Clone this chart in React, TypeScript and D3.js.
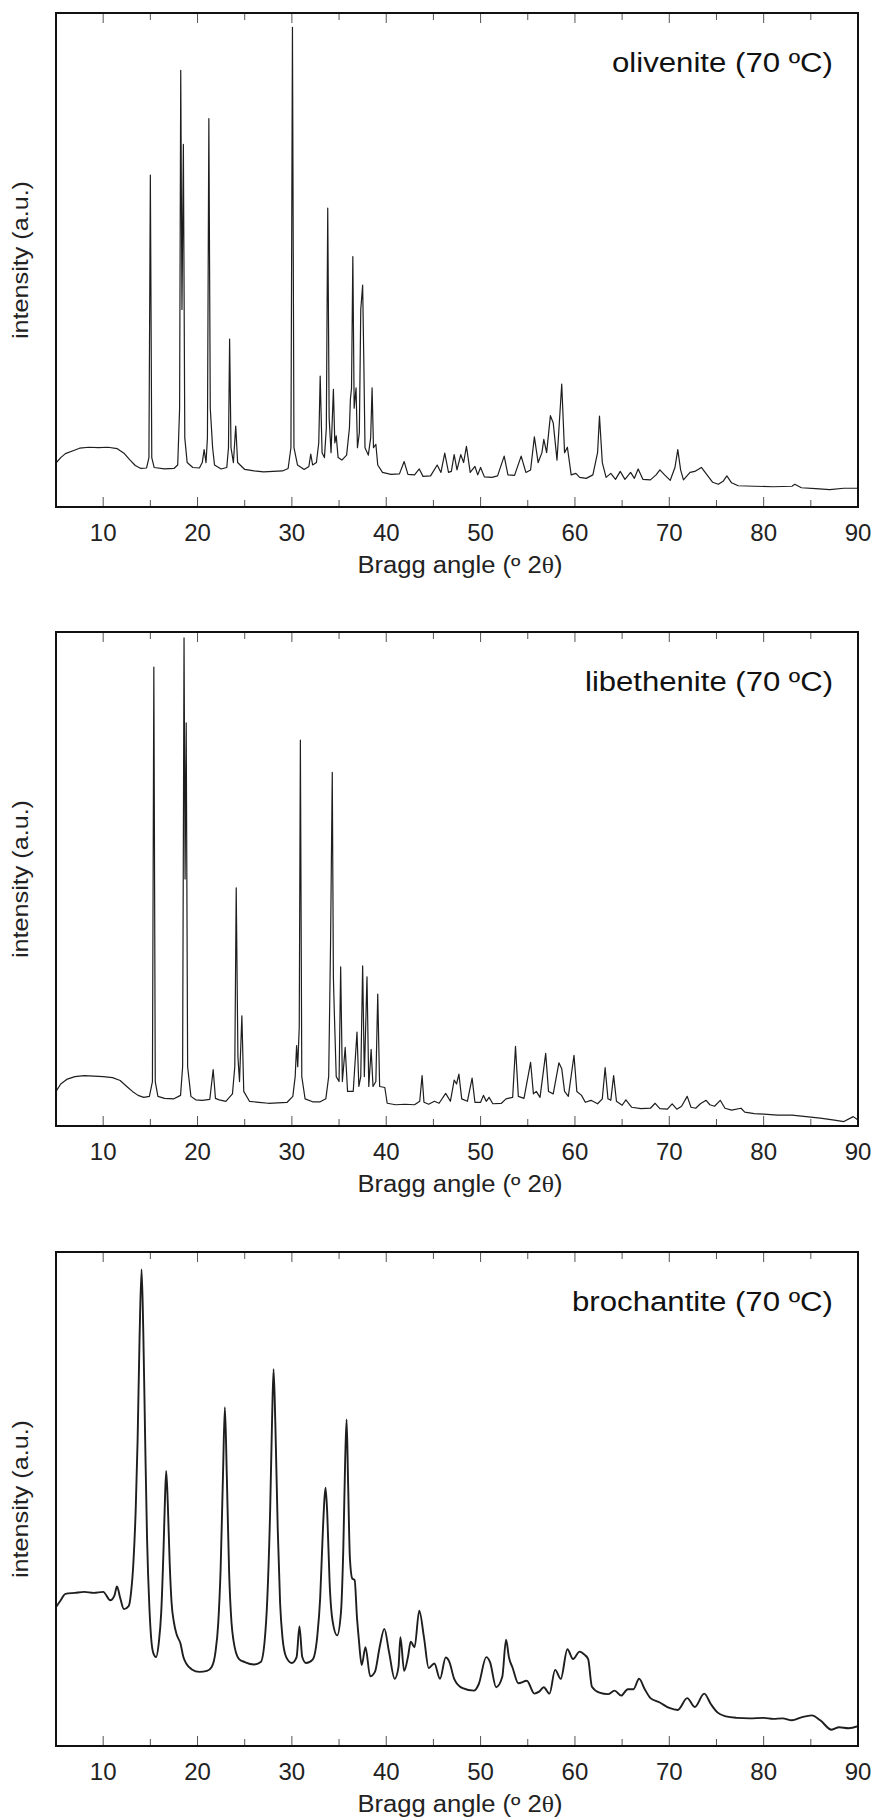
import React from 'react';
import * as d3 from 'd3';

// x-ray powder patterns, values as [2θ, intensity %]
const olivenite: [number, number][] = [
  [5, 8.9], [5.5, 10], [6, 10.8], [6.8, 11.4], [7.5, 11.9], [8.5, 12.1], [9.5, 12.0], [10.5, 12.1], [11.5, 11.8],
  [12.2, 10.9], [12.8, 9.6], [13.4, 8.4], [14.0, 7.8], [14.6, 7.9],
  [14.85, 10], [15.0, 67.2], [15.15, 10],
  [15.4, 8.0], [16.5, 7.7], [17.5, 7.8], [17.9, 8.5],
  [18.1, 20], [18.22, 88.4], [18.35, 40], [18.5, 73.4], [18.65, 14], [18.9, 9], [19.5, 8], [20.2, 7.9],
  [20.5, 9], [20.7, 11.6], [20.9, 9],
  [21.05, 14], [21.2, 78.6], [21.35, 20], [21.6, 12], [21.8, 8.5], [22.5, 7.7], [23.1, 8],
  [23.28, 12], [23.4, 34.0], [23.55, 12], [23.8, 9], [24.05, 16.4], [24.25, 9], [25, 7.6], [26, 7.3],
  [27, 7.1], [28, 7.2], [29, 7.3], [29.6, 7.8],
  [29.9, 12], [30.06, 97.1], [30.22, 12], [30.6, 8.5], [31.3, 7.6], [31.8, 8.2], [32.0, 10.7], [32.2, 8.5], [32.6, 9],
  [32.85, 13], [33.0, 26.5], [33.2, 11], [33.45, 10], [33.65, 16], [33.8, 60.5], [33.95, 18], [34.15, 11],
  [34.4, 23.8], [34.55, 13], [34.7, 14.4], [34.9, 10], [35.3, 9.5], [35.8, 10.5],
  [36.1, 16], [36.2, 21.8], [36.32, 24], [36.46, 50.7], [36.6, 20], [36.8, 24.1], [36.95, 12], [37.15, 15],
  [37.3, 40], [37.5, 44.9], [37.62, 30], [37.75, 12], [38.1, 10.5],
  [38.35, 14], [38.5, 24.1], [38.65, 12], [38.9, 12.7], [39.1, 8.5], [39.6, 7], [40.5, 6.6], [41.4, 6.7],
  [41.9, 9.2], [42.3, 6.6], [43.0, 6.5], [43.5, 7.7], [43.9, 6.2], [44.7, 6.3], [45.4, 8.5], [45.8, 7],
  [46.2, 10.9], [46.6, 7], [46.9, 7.2], [47.2, 10.6], [47.5, 7.5], [47.9, 10.6], [48.2, 9], [48.5, 12.3],
  [48.9, 7], [49.4, 8.2], [49.7, 6.5], [50.0, 8.0], [50.4, 6.1], [51.2, 6.0], [51.8, 6.3], [52.5, 10.3],
  [52.9, 6.5], [53.6, 6.4], [54.3, 10.3], [54.8, 7], [55.3, 7.5], [55.7, 14.2], [56.1, 9], [56.5, 11],
  [56.7, 13.7], [57.0, 11], [57.4, 18.5], [57.7, 17], [58.1, 9.5], [58.6, 24.9], [58.9, 11], [59.2, 12.1],
  [59.6, 6.5], [60.1, 6.8], [60.5, 6.0], [61.2, 5.8], [61.9, 6.5], [62.4, 11], [62.6, 18.4], [62.9, 9],
  [63.3, 6.0], [63.8, 6.8], [64.3, 5.6], [64.8, 7.2], [65.3, 5.6], [65.9, 7.0], [66.3, 5.8], [66.7, 7.7],
  [67.2, 5.6], [68.0, 5.5], [68.6, 6.5], [69.0, 7.5], [69.5, 6.5], [70.1, 5.4], [70.6, 8], [70.9, 11.6],
  [71.2, 7.5], [71.5, 5.5], [72.2, 7.0], [72.7, 7.2], [73.4, 8.0], [74.0, 6.5], [74.6, 5.0], [75.2, 4.6],
  [75.7, 5.2], [76.1, 6.3], [76.6, 4.9], [77.3, 4.3], [79, 4.2], [81, 4.1], [83, 4.2], [83.3, 4.6],
  [84, 3.9], [85.5, 3.7], [87, 3.5], [88.5, 3.8], [90, 3.8],
];

const libethenite: [number, number][] = [
  [5, 7.0], [5.5, 8.5], [6.2, 9.5], [7, 10.0], [8, 10.2], [9, 10.1], [10, 10.0], [11, 9.8], [11.8, 9.2],
  [12.5, 8.0], [13.1, 7.0], [13.7, 6.2], [14.3, 5.8], [14.9, 6.0],
  [15.22, 9], [15.37, 92.9], [15.52, 9], [15.8, 6], [16.5, 5.6], [17.5, 5.5], [18.2, 6.2],
  [18.42, 12], [18.57, 98.8], [18.68, 50], [18.8, 81.6], [18.95, 12], [19.3, 6], [19.8, 5.3], [20.5, 5.2],
  [21.3, 5.4], [21.66, 11.4], [21.9, 5.6], [22.3, 5.3], [23.0, 5.0], [23.7, 6.5],
  [23.95, 12], [24.1, 48.2], [24.28, 14], [24.45, 9], [24.7, 22.3], [24.9, 7], [25.5, 5.0], [26.5, 4.8],
  [27.5, 4.6], [28.5, 4.7], [29.5, 4.8], [30.1, 6],
  [30.35, 10], [30.5, 16.3], [30.62, 12], [30.78, 20], [30.9, 78.1], [31.05, 10], [31.4, 5.5], [32.2, 4.9],
  [33.0, 4.9], [33.6, 5.5], [33.9, 10],
  [34.1, 37.2], [34.28, 71.6], [34.4, 30], [34.5, 22.9], [34.7, 10], [35.0, 9], [35.17, 32.2], [35.35, 9],
  [35.65, 15.9], [35.9, 7], [36.5, 7],
  [36.9, 19.0], [37.1, 8], [37.3, 10], [37.5, 32.4], [37.68, 10], [37.96, 30.2], [38.15, 8], [38.4, 15.5],
  [38.6, 8], [38.9, 9], [39.1, 26.7], [39.3, 8], [39.85, 7.8], [40.1, 4.6], [41, 4.3], [42, 4.4], [43, 4.3],
  [43.55, 5], [43.8, 10.2], [44.0, 4.8], [44.5, 4.4], [45.1, 5.0], [45.6, 4.6], [46.3, 6.6], [46.8, 5.0],
  [47.2, 9.3], [47.45, 8.5], [47.7, 10.5], [48.0, 5.5], [48.6, 5.0], [49.1, 9.7], [49.4, 4.8], [50.0, 4.8],
  [50.3, 6.2], [50.6, 5.0], [50.9, 5.8], [51.3, 4.5], [52.2, 4.6], [52.7, 5.5], [53.4, 5.8], [53.7, 16.1],
  [54.0, 6], [54.6, 5.6], [55.3, 12.9], [55.6, 6.5], [55.9, 7.0], [56.3, 5.8], [56.9, 14.7], [57.2, 7],
  [57.7, 6.5], [58.3, 12.8], [58.6, 11.6], [58.9, 7], [59.3, 6], [59.9, 14.3], [60.2, 7], [60.7, 6.2],
  [61.1, 4.8], [61.7, 5.2], [62.4, 4.5], [62.9, 5.5], [63.2, 11.8], [63.5, 5.5], [63.8, 5.2], [64.1, 10.2],
  [64.4, 5], [65.0, 4.2], [65.4, 5.3], [66, 3.8], [67, 3.5], [68, 3.6], [68.5, 4.6], [69.0, 3.5],
  [69.8, 3.4], [70.3, 4.5], [70.8, 3.4], [71.3, 4.0], [71.9, 6.0], [72.3, 3.8], [72.8, 3.6], [73.3, 4.5],
  [73.9, 5.2], [74.3, 4.3], [74.8, 4.0], [75.4, 5.2], [75.9, 3.6], [76.6, 3.2], [77.6, 3.6], [78, 2.8],
  [79, 2.5], [80, 2.4], [81.5, 2.2], [83, 2.2], [84.5, 1.9], [86, 1.6], [87.5, 1.2], [88.5, 0.9],
  [89.5, 1.9], [90, 1.2],
];

const brochantite: [number, number][] = [
  [5, 28.1], [5.5, 29.5], [6, 30.8], [7, 31.0], [8, 31.2], [9, 31.0], [10, 31.2], [10.75, 29.5], [11.2, 30.5],
  [11.46, 32.3], [11.8, 30], [12.2, 27.7], [12.7, 28.3], [12.95, 31], [13.2, 37], [13.45, 48], [13.65, 62],
  [13.85, 82], [14.07, 96.5], [14.25, 84], [14.45, 62], [14.65, 42], [14.9, 28], [15.1, 21.5], [15.3, 18.9],
  [15.6, 18.0], [15.9, 21], [16.15, 27], [16.4, 40], [16.55, 50], [16.68, 55.7], [16.85, 49], [17.05, 37],
  [17.25, 29], [17.5, 25.0], [17.8, 22.5], [18.2, 20.7], [18.5, 18], [18.8, 16.7], [19.4, 15.5], [20.2, 15.0],
  [21.0, 15.2], [21.5, 16], [21.9, 19], [22.2, 25], [22.45, 36], [22.7, 55], [22.9, 68.6], [23.1, 55],
  [23.35, 35], [23.6, 25], [23.8, 21.5], [24.4, 17.6], [25, 17], [26, 16.5], [26.7, 17], [27.1, 21],
  [27.4, 30], [27.7, 48], [27.9, 66], [28.06, 76.3], [28.25, 65], [28.5, 44], [28.75, 29], [29.0, 22],
  [29.4, 18.0], [30.0, 16.8], [30.5, 18], [30.8, 24.2], [31.1, 18], [31.5, 16.8], [32.2, 17.5], [32.7, 22.4],
  [33.0, 30], [33.25, 42], [33.45, 50], [33.57, 52.3], [33.75, 47], [34.0, 33], [34.3, 25.5], [34.8, 22.4],
  [35.2, 27], [35.45, 40], [35.65, 58], [35.8, 66.1], [35.95, 54], [36.15, 38], [36.4, 33.9], [36.65, 33.6],
  [36.9, 26], [37.1, 21.5], [37.4, 16.4], [37.8, 20.0], [38.3, 14.1], [38.8, 15], [39.3, 20], [39.8, 23.7],
  [40.3, 19], [40.9, 13.6], [41.3, 16], [41.5, 22.0], [41.9, 15.2], [42.3, 18], [42.6, 21.1], [43.0, 20],
  [43.5, 27.4], [44.0, 22], [44.5, 15.8], [45.1, 16.7], [45.7, 13.6], [46.3, 17.9], [46.7, 17], [47.2, 13.6],
  [48.1, 11.7], [49.3, 11.2], [49.8, 12.5], [50.6, 18.0], [51.0, 17], [51.65, 11.9], [52.3, 14], [52.7, 21.5],
  [53.0, 18], [53.4, 15.8], [54.0, 12.7], [54.9, 13.2], [55.7, 10.6], [56.2, 11], [56.7, 11.9], [57.3, 10.6],
  [57.9, 15.4], [58.5, 13.6], [59.2, 19.6], [59.8, 17.6], [60.5, 19.1], [61.0, 18.5], [61.4, 17.6],
  [61.8, 12.0], [62.6, 10.8], [63.5, 10.5], [64.2, 11.2], [64.9, 10.2], [65.6, 11.5], [66.2, 11.5],
  [66.8, 13.6], [67.4, 11.5], [68.0, 9.7], [69.0, 8.8], [70.0, 7.7], [70.9, 7.3], [71.9, 9.7], [72.7, 7.9],
  [73.7, 10.6], [74.4, 8.5], [75.1, 6.8], [76, 6.0], [77.1, 5.7], [78.5, 5.6], [80, 5.7], [81, 5.5],
  [82, 5.6], [83, 5.2], [84, 5.8], [85.1, 6.2], [86, 5.2], [87.2, 3.3], [88, 3.8], [89, 3.6], [90, 4.0],
];

const titles = ['olivenite (70 ºC)', 'libethenite (70 ºC)', 'brochantite (70 ºC)'];
const titleWidths = [221, 248, 261];
const majorTicks = [10, 20, 30, 40, 50, 60, 70, 80, 90];
const minorTicks = [15, 25, 35, 45, 55, 65, 75, 85];

const font = '"Liberation Sans", Arial, Helvetica, sans-serif';
const left = 56;
const right = 858;
const panelH = 494;
const tops = [13, 632, 1252];

function Panel({ data, title, titleW, top, idx }: {
  data: [number, number][]; title: string; titleW: number; top: number; idx: number;
}) {
  const bottom = top + panelH;
  const x = d3.scaleLinear().domain([5, 90]).range([left, right]);
  const y = d3.scaleLinear().domain([0, 100]).range([bottom, top]);
  const line = d3.line<[number, number]>()
    .x(d => x(d[0]))
    .y(d => y(d[1]))
    .curve(idx === 2 ? d3.curveMonotoneX : d3.curveLinear);
  const clipId = 'clip' + idx;
  return (
    <g>
      <clipPath id={clipId}>
        <rect x={left} y={top} width={right - left} height={panelH} />
      </clipPath>
      {majorTicks.filter(t => t < 90).map(t => (
        <g key={'M' + t} stroke="#555" strokeWidth={1}>
          <line x1={x(t)} x2={x(t)} y1={bottom} y2={bottom - 10} />
          <line x1={x(t)} x2={x(t)} y1={top} y2={top + 10} />
        </g>
      ))}
      {minorTicks.map(t => (
        <g key={'m' + t} stroke="#555" strokeWidth={1}>
          <line x1={x(t)} x2={x(t)} y1={bottom} y2={bottom - 7} />
          <line x1={x(t)} x2={x(t)} y1={top} y2={top + 7} />
        </g>
      ))}
      <path
        d={line(data) || ''}
        fill="none"
        stroke="#1e1e1e"
        strokeWidth={idx === 2 ? 1.9 : 1.2}
        strokeLinejoin="round"
        clipPath={`url(#${clipId})`}
      />
      <rect x={left} y={top} width={right - left} height={panelH} fill="none" stroke="#111" strokeWidth={2} />
      {majorTicks.map(t => (
        <text key={'l' + t} x={x(t)} y={bottom + 34} textAnchor="middle" fontSize={24} fill="#222">
          {t}
        </text>
      ))}
      <text
        x={(left + right) / 2 + 3}
        y={bottom + 66}
        textAnchor="middle"
        fontSize={23}
        fill="#222"
        textLength={205}
        lengthAdjust="spacingAndGlyphs"
      >
        Bragg angle (º 2<tspan fontFamily='"Liberation Serif", "DejaVu Serif", serif'>θ</tspan>)
      </text>
      <text
        transform={`translate(28, ${(top + bottom) / 2}) rotate(-90)`}
        textAnchor="middle"
        fontSize={22}
        fill="#222"
        textLength={158}
        lengthAdjust="spacingAndGlyphs"
      >
        intensity (a.u.)
      </text>
      <text
        x={833}
        y={top + 59}
        textAnchor="end"
        fontSize={27}
        fill="#111"
        textLength={titleW}
        lengthAdjust="spacingAndGlyphs"
      >
        {title}
      </text>
    </g>
  );
}

export default function App() {
  const patterns = [olivenite, libethenite, brochantite];
  return (
    <svg
      width={877}
      height={1820}
      style={{ position: 'absolute', left: 0, top: 0, background: '#fff', fontFamily: font }}
    >
      <rect width={877} height={1820} fill="#fff" />
      {patterns.map((p, i) => (
        <Panel key={i} data={p} title={titles[i]} titleW={titleWidths[i]} top={tops[i]} idx={i} />
      ))}
    </svg>
  );
}
